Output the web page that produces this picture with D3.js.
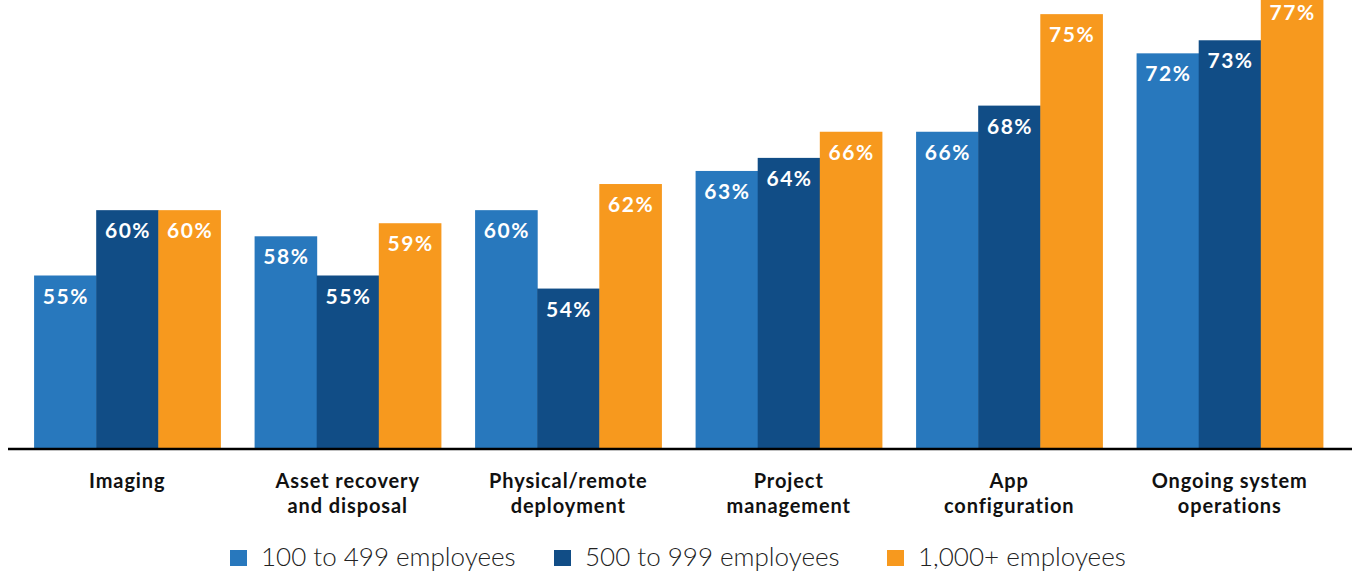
<!DOCTYPE html>
<html><head><meta charset="utf-8">
<script src="https://cdn.jsdelivr.net/npm/d3@7"></script>
<style>body{margin:0;background:#fff;}svg{display:block;}</style>
</head><body>
<script>
const categories = [["Imaging"],["Asset recovery","and disposal"],["Physical/remote","deployment"],["Project","management"],["App","configuration"],["Ongoing system","operations"]];
const seriesNames = ["100 to 499 employees","500 to 999 employees","1,000+ employees"];
const s100 = [55,58,60,63,66,72];
const s500 = [60,55,54,64,68,73];
const s1000 = [60,59,62,66,75,77];
const colors = ["#2878bd","#114d86","#f7991e"];
const series = [s100,s500,s1000];

const W=1354,H=571;
const svg=d3.select("body").append("svg").attr("width",W).attr("height",H);
const defs=svg.append("defs");
const f=defs.append("filter").attr("id","sh").attr("x","-5%").attr("y","-200%").attr("width","110%").attr("height","600%");
f.append("feGaussianBlur").attr("stdDeviation",3);

const x0=d3.scaleBand().domain(d3.range(categories.length)).range([17,1340]).paddingInner(0.155).paddingOuter(0.0775);
const x1=d3.scaleBand().domain(d3.range(3)).range([0,x0.bandwidth()]);
const base=448;
const y=d3.scaleLinear().domain([41.8,77]).range([base,-12]);
const FONT="Lato, 'Open Sans', sans-serif";

const g=svg.append("g");
categories.forEach((c,i)=>{
  series.forEach((s,j)=>{
    const v=s[i];
    const bx=x0(i)+x1(j);
    g.append("rect").attr("x",bx).attr("y",y(v)).attr("width",x1.bandwidth()+0.5).attr("height",base-y(v)).attr("fill",colors[j]);
    g.append("text").attr("x",bx+x1.bandwidth()/2+0.75).attr("y",Math.max(y(v)+28,20)).attr("text-anchor","middle")
      .attr("font-family",FONT).attr("font-weight",700).attr("font-size",21).attr("letter-spacing",1.5).attr("fill","#fff").text(v+"%");
  });
});
// baseline shadow + line
svg.append("line").attr("x1",10).attr("x2",1352).attr("y1",452).attr("y2",452).attr("stroke","#000").attr("stroke-opacity",0.35).attr("stroke-width",3).attr("filter","url(#sh)");
svg.append("line").attr("x1",8).attr("x2",1352).attr("y1",449).attr("y2",449).attr("stroke","#000").attr("stroke-width",2.5);

categories.forEach((c,i)=>{
  const cx=x0(i)+x0.bandwidth()/2;
  const t=svg.append("text").attr("x",cx).attr("y",488).attr("text-anchor","middle")
    .attr("font-family",FONT).attr("font-weight",700).attr("font-size",20).attr("letter-spacing",0.9).attr("fill","#111");
  c.forEach((l,k)=>t.append("tspan").attr("x",cx).attr("y",488+k*25).text(l));
});

const legX=[230,554,887];
seriesNames.forEach((n,j)=>{
  svg.append("rect").attr("x",legX[j]).attr("y",550).attr("width",17).attr("height",16).attr("fill",colors[j]);
  svg.append("text").attr("x",legX[j]+31).attr("y",566).attr("font-family",FONT).attr("font-weight",300).attr("font-size",26).attr("fill","#222").text(n);
});
</script>
</body></html>
